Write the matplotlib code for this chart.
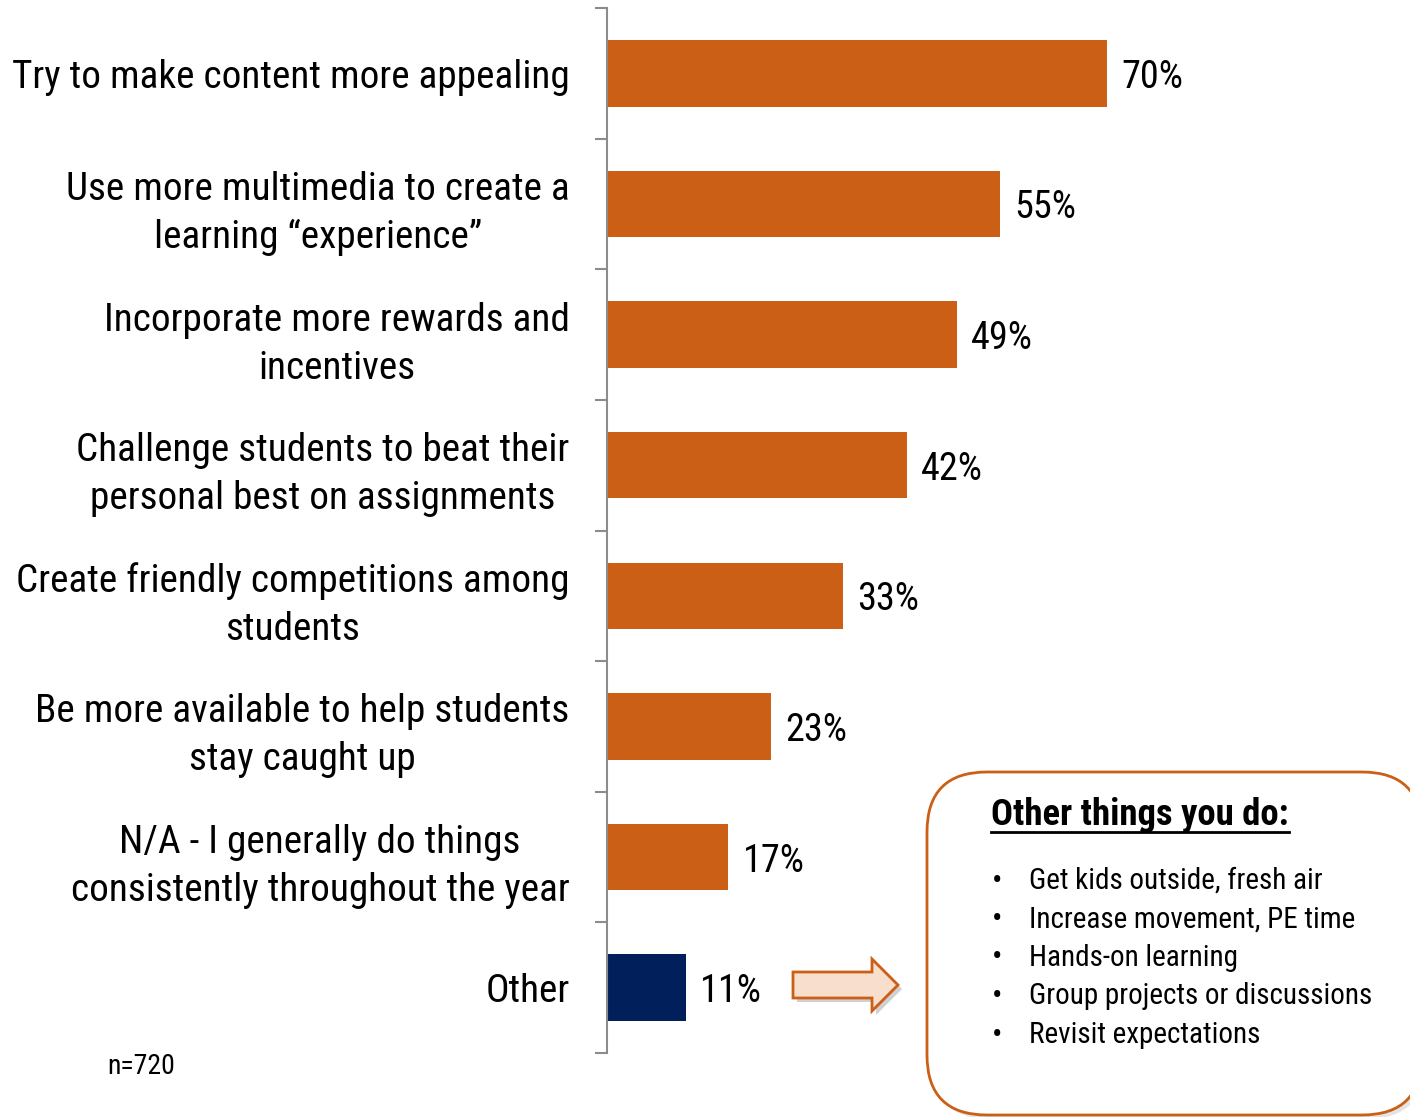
import numpy as np
import matplotlib
matplotlib.use("Agg")
import matplotlib.pyplot as plt
from matplotlib.patches import FancyBboxPatch, FancyArrow
from matplotlib.transforms import Affine2D, ScaledTranslation
from matplotlib.lines import Line2D

plt.rcParams['font.family'] = ['Roboto Condensed', 'DejaVu Sans']

# data
categories = [
    "Try to make content more appealing",
    "Use more multimedia to create a\nlearning \u201cexperience\u201d",
    "Incorporate more rewards and\nincentives",
    "Challenge students to beat their\npersonal best on assignments",
    "Create friendly competitions among\nstudents",
    "Be more available to help students\nstay caught up",
    "N/A - I generally do things\nconsistently throughout the year",
    "Other",
]
values = [70, 55, 49, 42, 33, 23, 17, 11]
other_items = [
    "Get kids outside, fresh air",
    "Increase movement, PE time",
    "Hands-on learning",
    "Group projects or discussions",
    "Revisit expectations",
]
box_title = "Other things you do:"
n_note = "n=720"

orange = '#CB5F16'
navy = '#001F5B'
colors = [orange] * 7 + [navy]

W, H = 1410, 1117
fig = plt.figure(figsize=(W / 100, H / 100), dpi=100)
# pixel coords, y from top
px = Affine2D().scale(1 / W, -1 / H).translate(0, 1) + fig.transFigure

ax = fig.add_axes([607 / W, 1 - 1053 / H, 1 - 607 / W, (1053 - 8) / H])
y = np.arange(len(categories))
ax.barh(y, values, height=0.51, color=colors)
ax.set_ylim(len(categories) - 0.5, -0.5)
ax.set_xlim(0, 112.4)

for yi, v in zip(y, values):
    ax.text(v + 2.0, yi, f"{v}%", va='center_baseline', ha='left', fontsize=27.5)

ax.set_yticks(y)
ax.set_yticklabels(categories, fontsize=28.3, multialignment='center', linespacing=1.38)
# nudge two-line labels up a little
for lab in ax.get_yticklabels():
    if "\n" in lab.get_text():
        lab.set_transform(lab.get_transform() + ScaledTranslation(0, 0.06, fig.dpi_scale_trans))
ax.set_yticks(np.arange(len(categories) + 1) - 0.5, minor=True)
ax.tick_params(axis='y', which='major', length=0, pad=27)
ax.tick_params(axis='y', which='minor', length=9, width=1.5, color='#8c8c8c', direction='out')
ax.set_xticks([])
for s in ['top', 'right', 'bottom']:
    ax.spines[s].set_visible(False)
ax.spines['left'].set_color('#8c8c8c')
ax.spines['left'].set_linewidth(1.5)

# n note
fig.text(107, 1066, n_note, transform=px, fontsize=20, va='center', ha='left')

# arrow
for dx, dy, fc, ec, z in [(4, 4, '#d0d0d0', 'none', 2), (0, 0, '#F8DFCD', orange, 3)]:
    arr = FancyArrow(793 + dx, 985 + dy, 105, 0, width=26, head_width=52, head_length=26,
                     length_includes_head=True, transform=px, facecolor=fc, edgecolor=ec,
                     linewidth=2, zorder=z)
    fig.patches.append(arr)

# box with shadow
shadow = FancyBboxPatch((931, 776), 495, 343, boxstyle="round,pad=0,rounding_size=60",
                        transform=px, facecolor='#e4e4e4', edgecolor='none', zorder=1)
fig.patches.append(shadow)
box = FancyBboxPatch((927, 772), 495, 343, boxstyle="round,pad=0,rounding_size=60",
                     transform=px, facecolor='white', edgecolor=orange, linewidth=2, zorder=2)
fig.patches.append(box)

title = fig.text(991, 815, box_title, transform=px, fontsize=26.5, fontweight='bold',
                 va='center', ha='left', zorder=4)
fig.canvas.draw()
bb = title.get_window_extent()
fig.lines.append(Line2D([bb.x0, bb.x1], [bb.y0 + 1, bb.y0 + 1], transform=None,
                        color='black', linewidth=2, zorder=4))

for i, item in enumerate(other_items):
    yy = 881 + i * 38.5
    fig.text(997, yy, "\u2022", transform=px, fontsize=22, va='center', ha='center', zorder=4)
    fig.text(1029, yy, item, transform=px, fontsize=21, va='center', ha='left', zorder=4)

fig.savefig("out.png", dpi=100)
